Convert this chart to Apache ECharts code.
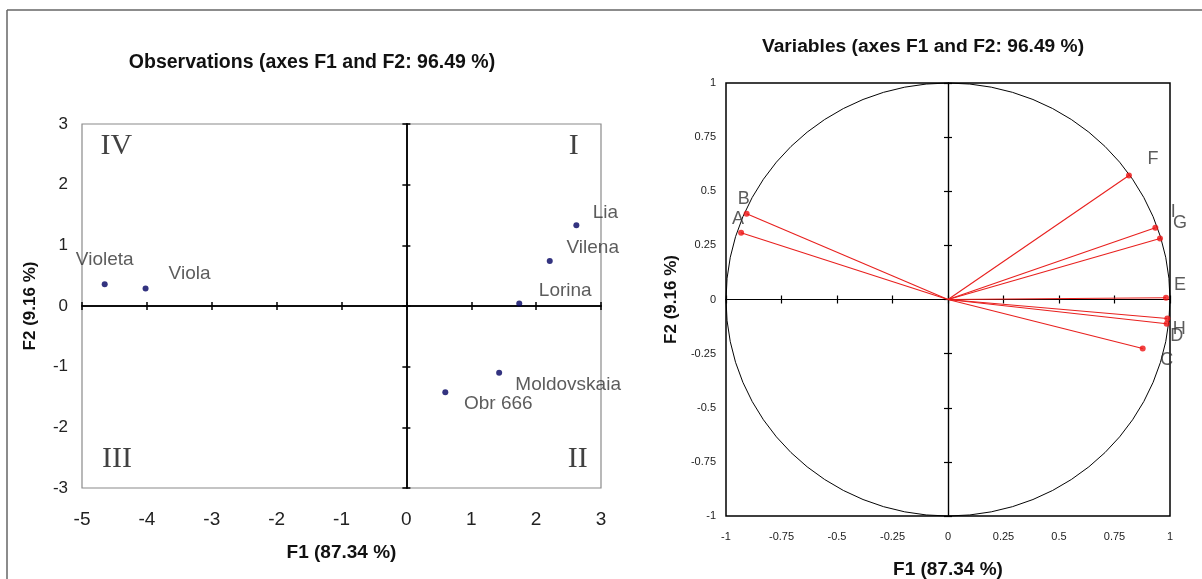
<!DOCTYPE html>
<html><head><meta charset="utf-8">
<script src="https://cdn.jsdelivr.net/npm/echarts@6/dist/echarts.min.js"></script>
<style>html,body{margin:0;padding:0;background:#fff}#c{width:1202px;height:579px}</style>
</head><body><div id="c"></div>
<script>
// ---- Observations (left plot) ----
const obsNames = ['Violeta', 'Viola', 'Lia', 'Vilena', 'Lorina', 'Moldovskaia', 'Obr 666'];
const obsF1 = [-4.65, -4.02, 2.62, 2.21, 1.74, 1.43, 0.60];
const obsF2 = [0.36, 0.29, 1.33, 0.74, 0.04, -1.10, -1.42];
const quadNames = ['I', 'II', 'III', 'IV'];
const quadF1 = [2.58, 2.64, -4.46, -4.47];
const quadF2 = [2.64, -2.52, -2.52, 2.64];
const obsXRange = [-5, 3, 1];
const obsYRange = [-3, 3, 1];

// ---- Variables (right plot) ----
const varNames = ['A', 'B', 'C', 'D', 'E', 'F', 'G', 'H', 'I'];
const varF1 = [-0.932, -0.907, 0.877, 0.985, 0.982, 0.815, 0.955, 0.988, 0.934];
const varF2 = [0.308, 0.396, -0.226, -0.112, 0.008, 0.573, 0.282, -0.088, 0.331];
const varRange = [-1, 1, 0.25];
const circleRadius = 1;

// ---- Texts ----
const titleObs = 'Observations (axes F1 and F2: 96.49 %)';
const titleVar = 'Variables (axes F1 and F2: 96.49 %)';
const nameF1 = 'F1 (87.34 %)';
const nameF2 = 'F2 (9.16 %)';

// ---- Label layout (pixel offsets) ----
const obsLabelOffset = {Violeta:[0,-24], Viola:[44,-15], Lia:[29,-13], Vilena:[43,-13], Lorina:[46,-13], Moldovskaia:[69,12], 'Obr 666':[53,12]};
const varLabelOffset = {A:[-3,-14], B:[-3,-15], C:[24,12], D:[10,12], E:[14,-13], F:[24,-16], G:[20,-15], H:[12,10], I:[18,-16]};

const FONT = '"Liberation Sans", Arial, sans-serif';
const chart = echarts.init(document.getElementById('c'), null, {renderer: 'canvas'});

function labelAxis(grid, r, opts) {
  return Object.assign({
    type: 'value', gridIndex: grid, min: r[0], max: r[1], interval: r[2],
    axisLine: {show: false, onZero: false}, axisTick: {show: false}, splitLine: {show: false}
  }, opts);
}
function zeroAxis(kind, grid, r, otherIdx, inside, color, width, len) {
  return {
    type: 'value', gridIndex: grid, min: r[0], max: r[1], interval: r[2],
    position: kind === 'x' ? 'bottom' : 'left',
    axisLine: {show: true, onZero: true, onZeroAxisIndex: otherIdx, lineStyle: {color: color, width: width}},
    axisTick: {show: true, inside: inside, length: len, lineStyle: {color: color, width: width}},
    axisLabel: {show: false}, splitLine: {show: false}
  };
}
const nameStyle = (size) => ({fontFamily: FONT, fontSize: size, fontWeight: 'bold', color: '#111'});

const option = {
  animation: false,
  backgroundColor: '#fff',
  graphic: [
    {type: 'line', shape: {x1: 7, y1: 10, x2: 1202, y2: 10}, style: {stroke: '#666', lineWidth: 1.5}},
    {type: 'line', shape: {x1: 7, y1: 10, x2: 7, y2: 579}, style: {stroke: '#666', lineWidth: 1.5}}
  ],
  title: [
    {text: titleObs, left: 307, top: 48, textAlign: 'center', textStyle: {fontFamily: FONT, fontSize: 19.5, fontWeight: 'bold', color: '#111'}},
    {text: titleVar, left: 918, top: 32, textAlign: 'center', textStyle: {fontFamily: FONT, fontSize: 19.2, fontWeight: 'bold', color: '#111'}}
  ],
  grid: [
    {left: 82, top: 124, width: 519, height: 364, show: true, borderColor: '#8a8a8a', borderWidth: 1.2, backgroundColor: 'transparent', containLabel: false, outerBoundsMode: 'none'},
    {left: 726, top: 83, width: 444, height: 433, show: true, borderColor: '#000', borderWidth: 1.5, backgroundColor: 'transparent', containLabel: false, outerBoundsMode: 'none'}
  ],
  xAxis: [
    labelAxis(0, obsXRange, {position: 'bottom', axisLabel: {margin: 22, fontSize: 19, fontFamily: FONT, color: '#222'},
      name: nameF1, nameLocation: 'middle', nameGap: 55, nameTextStyle: nameStyle(19)}),
    zeroAxis('x', 0, obsXRange, 0, false, '#000', 1.5, 4),
    zeroAxis('x', 0, obsXRange, 0, true, '#000', 1.5, 4),
    labelAxis(1, varRange, {position: 'bottom', axisLabel: {margin: 15, fontSize: 11, fontFamily: FONT, color: '#222'},
      name: nameF1, nameLocation: 'middle', nameGap: 44.5, nameTextStyle: nameStyle(19)}),
    zeroAxis('x', 1, varRange, 3, false, '#000', 1.2, 4),
    zeroAxis('x', 1, varRange, 3, true, '#000', 1.2, 4)
  ],
  yAxis: [
    labelAxis(0, obsYRange, {position: 'left', axisLabel: {margin: 14, fontSize: 17, fontFamily: FONT, color: '#222'},
      name: nameF2, nameLocation: 'middle', nameGap: 43, nameTextStyle: nameStyle(17)}),
    zeroAxis('y', 0, obsYRange, 0, false, '#000', 1.5, 4),
    zeroAxis('y', 0, obsYRange, 0, true, '#000', 1.5, 4),
    labelAxis(1, varRange, {position: 'left', axisLabel: {margin: 10, fontSize: 11, fontFamily: FONT, color: '#222'},
      name: nameF2, nameLocation: 'middle', nameGap: 46, nameTextStyle: nameStyle(17)}),
    zeroAxis('y', 1, varRange, 3, false, '#000', 1.2, 4),
    zeroAxis('y', 1, varRange, 3, true, '#000', 1.2, 4)
  ],
  series: [
    {
      type: 'scatter', xAxisIndex: 0, yAxisIndex: 0, symbol: 'circle', symbolSize: 6,
      itemStyle: {color: '#000060'},
      data: obsNames.map((n, i) => ({name: n, value: [obsF1[i], obsF2[i]],
        label: {show: true, position: 'inside', offset: obsLabelOffset[n], formatter: n,
          fontFamily: FONT, fontSize: 19, color: '#333', align: 'center', verticalAlign: 'middle'}}))
    },
    {
      type: 'scatter', xAxisIndex: 0, yAxisIndex: 0, symbolSize: 0, silent: true,
      data: quadNames.map((n, i) => ({name: n, value: [quadF1[i], quadF2[i]],
        label: {show: true, position: 'inside', formatter: n, fontFamily: '"Liberation Serif", "Times New Roman", serif',
          fontSize: 30, color: '#111', align: 'center', verticalAlign: 'middle'}}))
    },
    {
      type: 'custom', xAxisIndex: 3, yAxisIndex: 3, silent: true,
      data: [[0, 0]],
      renderItem: function (params, api) {
        const c = api.coord([api.value(0), api.value(1)]);
        const s = api.size([circleRadius, circleRadius]);
        return {type: 'circle', x: c[0], y: c[1], scaleX: 1, scaleY: s[1] / s[0],
          shape: {cx: 0, cy: 0, r: s[0]}, style: {fill: 'none', stroke: '#000', lineWidth: 1}};
      }
    },
    {
      type: 'custom', xAxisIndex: 3, yAxisIndex: 3, silent: true,
      data: varNames.map((n, i) => [varF1[i], varF2[i]]),
      renderItem: function (params, api) {
        const o = api.coord([0, 0]);
        const p = api.coord([api.value(0), api.value(1)]);
        return {type: 'line', shape: {x1: o[0], y1: o[1], x2: p[0], y2: p[1]}, style: {stroke: '#e8201e', lineWidth: 1.1}};
      }
    },
    {
      type: 'scatter', xAxisIndex: 3, yAxisIndex: 3, symbol: 'circle', symbolSize: 6,
      itemStyle: {color: '#ee1111'},
      data: varNames.map((n, i) => ({name: n, value: [varF1[i], varF2[i]],
        label: {show: true, position: 'inside', offset: varLabelOffset[n], formatter: n,
          fontFamily: FONT, fontSize: 18, color: '#333', align: 'center', verticalAlign: 'middle'}}))
    }
  ]
};
chart.setOption(option);
</script></body></html>
